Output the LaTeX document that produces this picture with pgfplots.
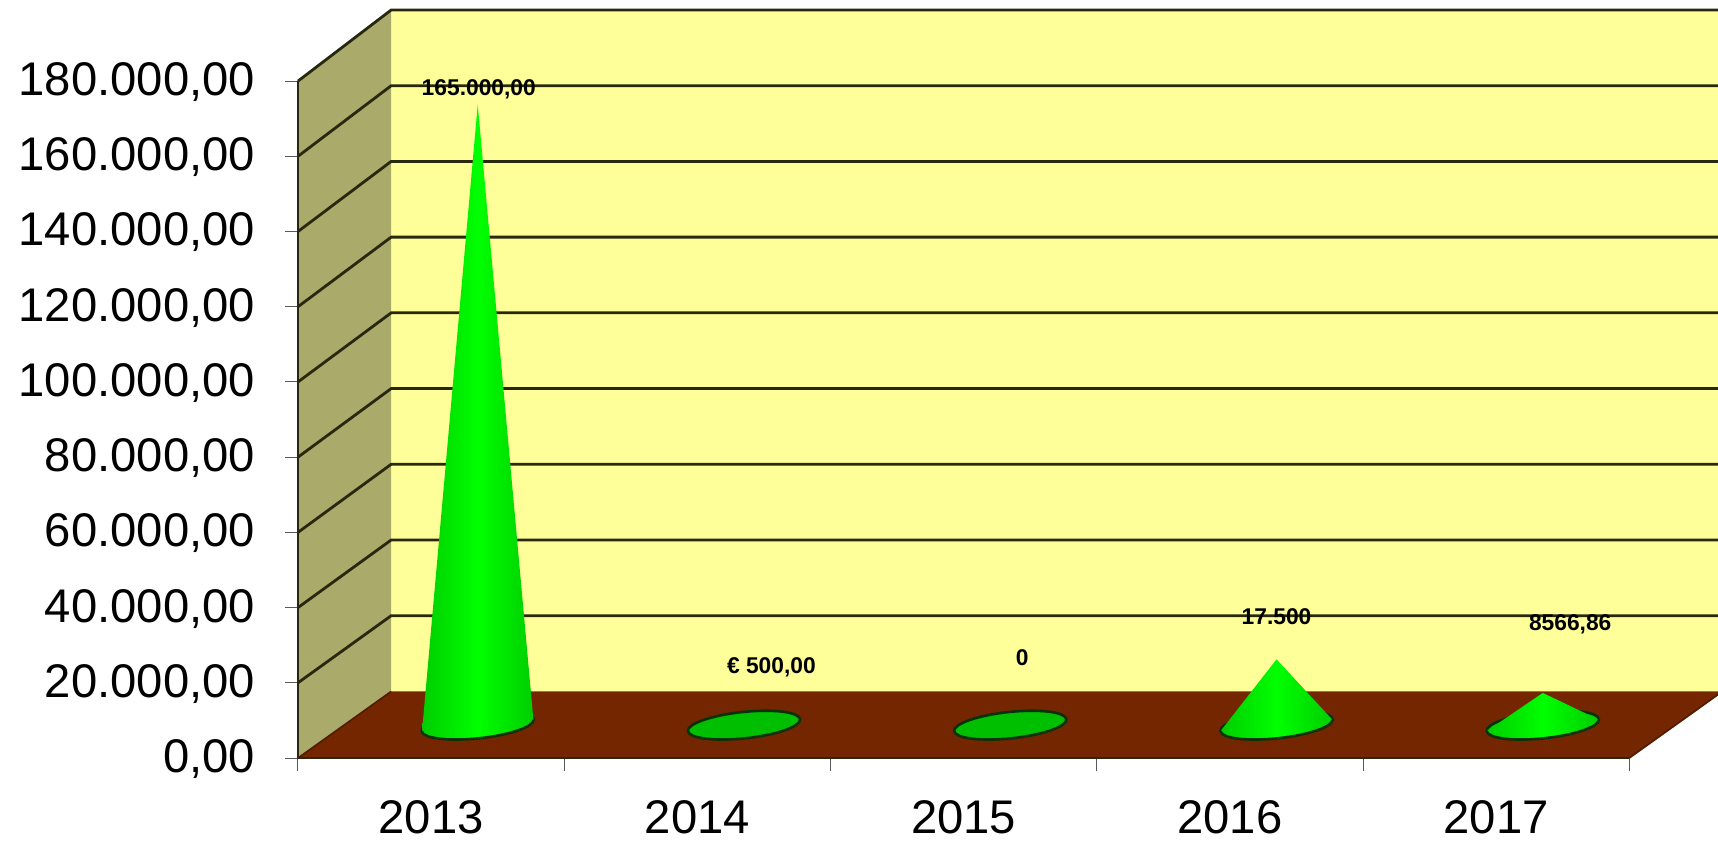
\documentclass[border=0pt]{standalone}
\usepackage{pgfplots}
\pgfplotsset{compat=1.18}
\usepackage{fontspec}
\setmainfont{Liberation Sans}

\definecolor{backwall}{RGB}{255,255,153}
\definecolor{sidewall}{RGB}{170,170,107}
\definecolor{floorc}{RGB}{115,38,0}
\definecolor{gridc}{RGB}{40,40,15}
\definecolor{conelight}{RGB}{0,255,0}
\definecolor{coneedge}{RGB}{0,205,0}
\definecolor{coneflat}{RGB}{0,190,0}
\definecolor{coneline}{RGB}{10,50,10}

\tikzset{
  coneshade/.style={left color=coneedge,right color=coneedge,middle color=conelight},
  coneplain/.style={fill=coneflat},
}

% x centre, value, style: base ellipse, then the body from the base up to the value
\newcommand{\cone}[3]{
  \draw[coneline,line width=1.3pt,#3,rotate around={6:(axis cs:#1,8740)}]
    (axis cs:#1,8740) ellipse [x radius=28.2pt,y radius=6.6pt];
  \addplot[draw=none,#3] table[row sep=\\,x expr=\thisrow{x}+#1,y expr=\thisrow{y}+8740]
    {x y\\ -0.209 -1500\\ 0 #2\\ 0.209 1500\\} --cycle;
}

\begin{document}
\begin{tikzpicture}
\useasboundingbox (-149pt,-42.5pt) rectangle (710pt,379pt);
\begin{axis}[
    at={(0pt,0pt)},
    anchor=origin,
    scale only axis,
    width=710pt,
    height=374pt,
    xmin=0,
    xmax=5.333,
    ymin=0,
    ymax=198900,
    clip=false,
    axis line style={draw=none},
    xtick pos=bottom,
    ytick pos=left,
    tick align=outside,
    major tick length=6.5pt,
    minor tick length=6.5pt,
    xtick={0.5,1.5,2.5,3.5,4.5},
    xticklabels={2013,2014,2015,2016,2017},
    minor xtick={0,1,2,3,4,5},
    major x tick style={draw=none},
    minor x tick style={draw=black!65,line width=0.5pt},
    ytick={0,20000,...,180000},
    y tick style={draw=black!65,line width=0.5pt},
    scaled y ticks=false,
    tick label style={font=\fontsize{23.6}{26}\selectfont},
    x tick label style={yshift=-11pt},
    y tick label style={xshift=-11.5pt,yshift=-0.5pt},
    /pgf/number format/.cd,
      fixed,
      fixed zerofill,
      precision=2,
      1000 sep={.},
      dec sep={,},
      assume math mode=true,
]
% walls and floor
\addplot[fill=backwall,draw=none] coordinates {(0.35,17710) (5.333,17710) (5.333,198907) (0.35,198907)} --cycle;
\addplot[fill=sidewall,draw=none] coordinates {(0,0) (0,180000) (0.35,198907) (0.35,17710)} --cycle;
\addplot[fill=floorc,draw=none] coordinates {(0,0) (5,0) (5.35,17710) (0.35,17710)} --cycle;

% gridlines: front edge, back corner, right edge
\addplot[gridc,line width=1.4pt] coordinates {(0,20000) (0.35,37843) (5.333,37843)};
\addplot[gridc,line width=1.4pt] coordinates {(0,40000) (0.35,57976) (5.333,57976)};
\addplot[gridc,line width=1.4pt] coordinates {(0,60000) (0.35,78109) (5.333,78109)};
\addplot[gridc,line width=1.4pt] coordinates {(0,80000) (0.35,98242) (5.333,98242)};
\addplot[gridc,line width=1.4pt] coordinates {(0,100000) (0.35,118375) (5.333,118375)};
\addplot[gridc,line width=1.4pt] coordinates {(0,120000) (0.35,138508) (5.333,138508)};
\addplot[gridc,line width=1.4pt] coordinates {(0,140000) (0.35,158641) (5.333,158641)};
\addplot[gridc,line width=1.4pt] coordinates {(0,160000) (0.35,178774) (5.333,178774)};
\addplot[gridc,line width=1.4pt] coordinates {(0,180000) (0.35,198907) (5.333,198907)};
% box edges
\addplot[gridc,line width=1.2pt] coordinates {(0,180000) (0,0) (5,0)};
\addplot[floorc!70!black,line width=0.8pt] coordinates {(0,0) (0.35,17710)};
\addplot[floorc!70!black,line width=0.8pt] coordinates {(5,0) (5.35,17710)};

% cones
\cone{0.675}{165000}{coneshade}
\cone{1.675}{500}{coneplain}
\cone{2.675}{0}{coneplain}
\cone{3.675}{17500}{coneshade}
\cone{4.675}{8566.86}{coneshade}

% value labels
\tikzset{vlabel/.style={font=\fontsize{11.4}{13}\selectfont\bfseries,inner sep=0pt}}
\node[vlabel] at (axis cs:0.679,177900) {165.000,00};
\node[vlabel] at (axis cs:1.778,24000) {€ 500,00};
\node[vlabel] at (axis cs:2.72,26800) {0};
\node[vlabel] at (axis cs:3.675,37700) {17.500};
\node[vlabel] at (axis cs:4.778,35600) {8566,86};
\end{axis}
\end{tikzpicture}
\end{document}
